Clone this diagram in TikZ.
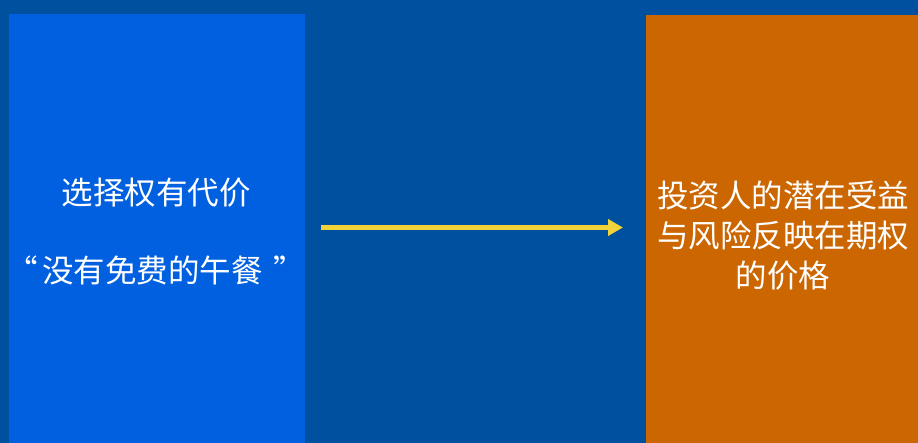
\documentclass[tikz,border=0pt]{standalone}
\usepackage{fontspec}
\newfontfamily\cjk{Noto Sans CJK SC}
\usetikzlibrary{arrows.meta}
\definecolor{bgblue}{RGB}{0,80,160}
\definecolor{boxblue}{RGB}{0,96,224}
\definecolor{boxorange}{RGB}{204,102,0}
\definecolor{arrowyellow}{RGB}{242,212,58}
\tikzset{
  lbl/.style={text=white, font=\cjk\fontsize{31.5}{40}\selectfont, align=center, inner sep=0pt},
  link/.style={draw=arrowyellow, line width=5pt, -{Triangle[length=15pt,width=16pt]}}
}
\begin{document}
\begin{tikzpicture}[x=1pt,y=-1pt]
\fill[bgblue] (0,0) rectangle (918,443);
\useasboundingbox (0,0) rectangle (918,443);
\fill[boxblue] (8.5,14) rectangle (305,443);
\fill[boxorange] (646,15) rectangle (918,443);
\node[lbl] (l1) at (156,193) {选择权有代价};
\node[lbl] (l2) at (156,270) {“\hspace{4pt}没有免费的午餐 \hspace{4pt}”};
\node[lbl] (r) at (783,236) {投资人的潜在受益\\与风险反映在期权\\的价格};
\coordinate (a) at (321,227.5);
\coordinate (b) at (623,227.5);
\draw[link] (a) -- (b);
\end{tikzpicture}
\end{document}
